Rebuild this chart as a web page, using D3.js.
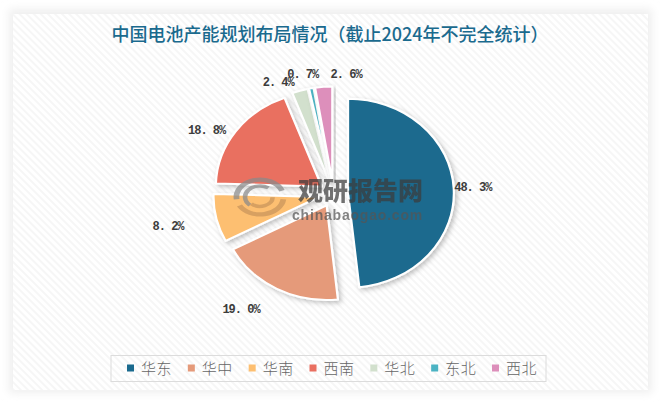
<!DOCTYPE html>
<html>
<head>
<meta charset="utf-8">
<script src="https://cdn.jsdelivr.net/npm/d3@7/dist/d3.min.js"></script>
<style>
  html, body { margin: 0; padding: 0; background: #fff; }
  svg { display: block; }
</style>
</head>
<body>
<svg id="viz" width="661" height="402"></svg>
<script>
// chart values
var title = "中国电池产能规划布局情况（截止2024年不完全统计）";
var regions = ["华东", "华中", "华南", "西南", "华北", "东北", "西北"];
var shares = [48.3, 19.0, 8.2, 18.8, 2.4, 0.7, 2.6];
var colors = ["#1a6a8e", "#e59a7a", "#fdbf71", "#e96f60", "#d2e0cd", "#4bb3c3", "#dd8fbb"];

// label nudges away from the slice, hand placed like the original
var labelDx = [17, -37, -49, -30, -23, -10, 21];
var labelDy = [-1, 18, 7, 0, -6, -12, -10];

var width = 661, height = 402;
var radius = 94.5, stretch = 1.12, explode = 13;
var cx = 333.5, cy = 194;

var svg = d3.select("#viz");
var defs = svg.append("defs");

// hatch background
var hatch = defs.append("pattern").attr("id", "hatch")
  .attr("width", 5).attr("height", 5)
  .attr("patternUnits", "userSpaceOnUse")
  .attr("patternTransform", "rotate(45)");
hatch.append("rect").attr("width", 5).attr("height", 5).attr("fill", "#ffffff");
hatch.append("rect").attr("width", 5).attr("height", 2).attr("fill", "#f6f6f6");

var shadow = defs.append("filter").attr("id", "shadow")
  .attr("x", "-20%").attr("y", "-20%").attr("width", "140%").attr("height", "140%");
shadow.append("feDropShadow")
  .attr("dx", 2).attr("dy", 2).attr("stdDeviation", 2.5)
  .attr("flood-color", "#000").attr("flood-opacity", 0.25);

var frame = defs.append("filter").attr("id", "frame")
  .attr("x", "-5%").attr("y", "-5%").attr("width", "110%").attr("height", "110%");
frame.append("feGaussianBlur").attr("stdDeviation", 4);

// card with soft edge
svg.append("rect").attr("width", width).attr("height", height).attr("fill", "#ffffff");
svg.append("rect").attr("x", 9).attr("y", 9).attr("width", 643).attr("height", 384)
  .attr("fill", "#efefef").attr("filter", "url(#frame)");
svg.append("rect").attr("x", 13).attr("y", 14).attr("width", 635).attr("height", 376)
  .attr("fill", "url(#hatch)");

svg.append("text")
  .attr("x", 330).attr("y", 41)
  .attr("text-anchor", "middle")
  .attr("font-family", "'Noto Sans CJK SC', sans-serif")
  .attr("font-size", 18).attr("font-weight", 500)
  .attr("fill", "#1a6a8e")
  .text(title);

// pie
var pie = d3.pie().sort(null).value(function(d) { return d; });
var arcs = pie(shares);
var arc = d3.arc().innerRadius(0).outerRadius(radius);

function mid(d) { return (d.startAngle + d.endAngle) / 2; }

var pieG = svg.append("g")
  .attr("transform", "translate(" + cx + "," + cy + ") scale(" + stretch + ",1)");

pieG.selectAll("path").data(arcs).enter().append("path")
  .attr("d", arc)
  .attr("transform", function(d) {
    return "translate(" + (explode * Math.sin(mid(d))) + "," + (-explode * Math.cos(mid(d))) + ")";
  })
  .attr("fill", function(d, i) { return colors[i]; })
  .attr("stroke", "#fff").attr("stroke-width", 2)
  .attr("stroke-linejoin", "round")
  .attr("filter", "url(#shadow)");

// value labels
svg.append("g").selectAll("text").data(arcs).enter().append("text")
  .attr("x", function(d, i) { return 335 + 1.1 * 110 * Math.sin(mid(d)) + labelDx[i]; })
  .attr("y", function(d, i) { return cy - 110 * Math.cos(mid(d)) + labelDy[i] + 4; })
  .attr("text-anchor", "middle")
  .attr("font-family", "'Liberation Mono', monospace")
  .attr("font-size", 12).attr("font-weight", 700)
  .attr("letter-spacing", -1)
  .attr("fill", "#3c3c3c")
  .text(function(d) { return d3.format(".1f")(d.value).replace(".", ". ") + "%"; });

// watermark
var mark = svg.append("g").attr("opacity", 0.72);
var logoArc = d3.arc();
var logoParts = [
  { r0: 18, r1: 23, a0: -1.7, a1: 1.2, c: "#8a8a8a" },
  { r0: 11, r1: 15, a0: -2.4, a1: 0.6, c: "#8a8a8a" },
  { r0: 18, r1: 23, a0: 1.7, a1: 4.2, c: "#c9955c" },
  { r0: 9, r1: 13, a0: 1.6, a1: 3.9, c: "#c9955c" }
];
mark.append("g").attr("transform", "translate(260,197) scale(1.15,0.85)")
  .selectAll("path").data(logoParts).enter().append("path")
  .attr("d", function(p) {
    return logoArc({ innerRadius: p.r0, outerRadius: p.r1, startAngle: p.a0, endAngle: p.a1 });
  })
  .attr("fill", function(p) { return p.c; });

mark.append("text").attr("x", 298).attr("y", 200)
  .attr("font-family", "'Noto Sans CJK SC', sans-serif")
  .attr("font-size", 25).attr("font-weight", 900)
  .attr("fill", "#3b3b3b")
  .text("观研报告网");
mark.append("text").attr("x", 292).attr("y", 220)
  .attr("font-family", "'Liberation Sans', sans-serif")
  .attr("font-size", 14).attr("font-weight", 700)
  .attr("letter-spacing", 0.8)
  .attr("fill", "#555")
  .text("chinabaogao.com");

// legend
svg.append("rect").attr("x", 111).attr("y", 355.5).attr("width", 435).attr("height", 26)
  .attr("fill", "none").attr("stroke", "#dcdcdc").attr("stroke-width", 1);

var legendX = d3.scalePoint().domain(regions).range([127, 492]);
var legend = svg.append("g").selectAll("g").data(regions).enter().append("g")
  .attr("transform", function(d) { return "translate(" + legendX(d) + ",368)"; });
legend.append("rect")
  .attr("y", -3.5).attr("width", 7).attr("height", 7)
  .attr("fill", function(d, i) { return colors[i]; });
legend.append("text")
  .attr("x", 14).attr("y", 5.5)
  .attr("font-family", "'Noto Sans CJK SC', sans-serif")
  .attr("font-size", 15).attr("font-weight", 300)
  .attr("letter-spacing", 0.5)
  .attr("fill", "#666")
  .text(function(d) { return d; });
</script>
</body>
</html>
